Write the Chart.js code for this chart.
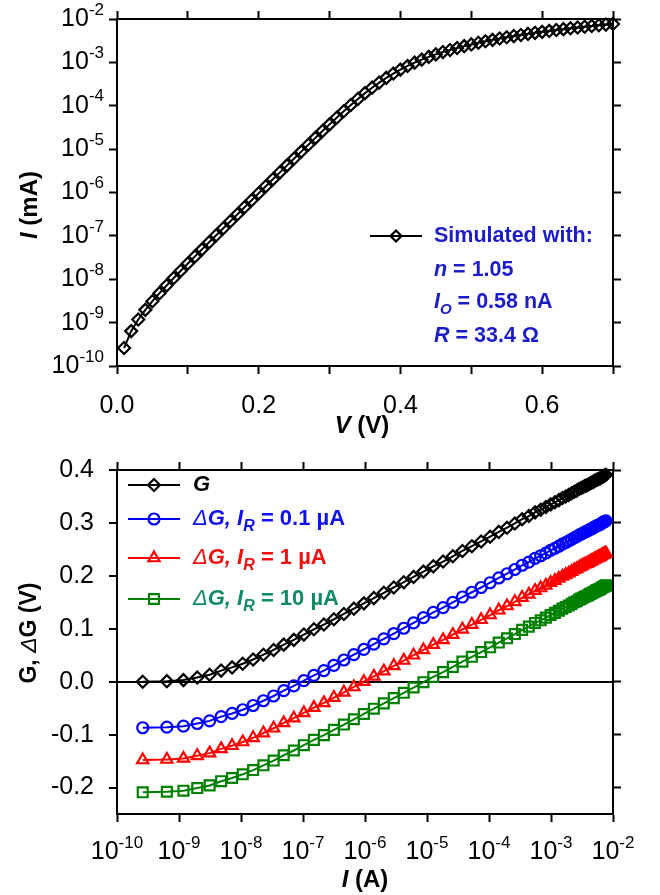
<!DOCTYPE html>
<html>
<head>
<meta charset="utf-8">
<script src="https://cdn.jsdelivr.net/npm/chart.js@4.4.1/dist/chart.umd.min.js"></script>
<style>
  html, body { margin: 0; padding: 0; background: #fff; }
  #wrap { position: relative; width: 660px; height: 895px; }
  canvas { position: absolute; left: 0; }
  #ivChart { top: 0; }
  #gChart { top: 440px; }
</style>
</head>
<body>
<div id="wrap">
  <canvas id="ivChart" width="660" height="440"></canvas>
  <canvas id="gChart" width="660" height="455"></canvas>
</div>
<script>
// Voltage points (V) of the simulated I-V curve
const vVals = [
  0.01, 0.02, 0.03, 0.04, 0.05, 0.06, 0.07, 0.08, 0.09, 0.10,
  0.11, 0.12, 0.13, 0.14, 0.15, 0.16, 0.17, 0.18, 0.19, 0.20,
  0.21, 0.22, 0.23, 0.24, 0.25, 0.26, 0.27, 0.28, 0.29, 0.30,
  0.31, 0.32, 0.33, 0.34, 0.35, 0.36, 0.37, 0.38, 0.39, 0.40,
  0.41, 0.42, 0.43, 0.44, 0.45, 0.46, 0.47, 0.48, 0.49, 0.50,
  0.51, 0.52, 0.53, 0.54, 0.55, 0.56, 0.57, 0.58, 0.59, 0.60,
  0.61, 0.62, 0.63, 0.64, 0.65, 0.66, 0.67, 0.68, 0.69, 0.70
];
// Current at each voltage (also the x values of the lower plot)
const iVals = [
  2.60e-10, 6.37e-10, 1.18e-9, 1.97e-9, 3.12e-9, 4.78e-9, 7.18e-9, 1.066e-8, 1.57e-8, 2.30e-8,
  3.36e-8, 4.89e-8, 7.11e-8, 1.032e-7, 1.498e-7, 2.173e-7, 3.150e-7, 4.565e-7, 6.616e-7, 9.585e-7,
  1.389e-6, 2.012e-6, 2.915e-6, 4.22e-6, 6.07e-6, 8.76e-6, 1.263e-5, 1.817e-5, 2.608e-5, 3.725e-5,
  5.29e-5, 7.47e-5, 1.042e-4, 1.438e-4, 1.954e-4, 2.61e-4, 3.42e-4, 4.39e-4, 5.53e-4, 6.82e-4,
  8.27e-4, 9.85e-4, 1.155e-3, 1.337e-3, 1.528e-3, 1.728e-3, 1.935e-3, 2.150e-3, 2.370e-3, 2.596e-3,
  2.827e-3, 3.062e-3, 3.301e-3, 3.543e-3, 3.788e-3, 4.036e-3, 4.287e-3, 4.540e-3, 4.795e-3, 5.052e-3,
  5.311e-3, 5.572e-3, 5.834e-3, 6.098e-3, 6.363e-3, 6.630e-3, 6.897e-3, 7.166e-3, 7.435e-3, 7.706e-3
];
// G and delta-G (V) at each current
const gVals = [
  0.000, 0.001, 0.003, 0.008, 0.013, 0.021, 0.027, 0.034, 0.042, 0.051,
  0.060, 0.070, 0.079, 0.089, 0.099, 0.108, 0.118, 0.128, 0.138, 0.148,
  0.158, 0.168, 0.178, 0.188, 0.198, 0.208, 0.218, 0.227, 0.237, 0.247,
  0.256, 0.265, 0.274, 0.283, 0.291, 0.299, 0.307, 0.313, 0.320, 0.325,
  0.330, 0.335, 0.339, 0.343, 0.347, 0.350, 0.353, 0.356, 0.359, 0.361,
  0.364, 0.366, 0.368, 0.370, 0.371, 0.373, 0.375, 0.376, 0.378, 0.379,
  0.381, 0.382, 0.383, 0.384, 0.385, 0.387, 0.388, 0.389, 0.390, 0.391
];
const dG01 = [
  -0.087, -0.086, -0.084, -0.079, -0.074, -0.066, -0.060, -0.053, -0.045, -0.036,
  -0.027, -0.017, -0.008, 0.002, 0.012, 0.021, 0.031, 0.041, 0.051, 0.061,
  0.071, 0.081, 0.091, 0.101, 0.111, 0.121, 0.131, 0.140, 0.150, 0.160,
  0.169, 0.178, 0.187, 0.196, 0.204, 0.212, 0.220, 0.226, 0.233, 0.238,
  0.243, 0.248, 0.252, 0.256, 0.260, 0.263, 0.266, 0.269, 0.272, 0.274,
  0.277, 0.279, 0.281, 0.283, 0.284, 0.286, 0.288, 0.289, 0.291, 0.292,
  0.294, 0.295, 0.296, 0.297, 0.298, 0.300, 0.301, 0.302, 0.303, 0.304
];
const dG1 = [
  -0.148, -0.147, -0.145, -0.140, -0.135, -0.127, -0.121, -0.114, -0.106, -0.097,
  -0.088, -0.078, -0.069, -0.059, -0.049, -0.040, -0.030, -0.020, -0.010, 0.000,
  0.010, 0.020, 0.030, 0.040, 0.050, 0.060, 0.070, 0.079, 0.089, 0.099,
  0.108, 0.117, 0.126, 0.135, 0.143, 0.151, 0.159, 0.165, 0.172, 0.177,
  0.182, 0.187, 0.191, 0.195, 0.199, 0.202, 0.205, 0.208, 0.211, 0.213,
  0.216, 0.218, 0.220, 0.222, 0.223, 0.225, 0.227, 0.228, 0.230, 0.231,
  0.233, 0.234, 0.235, 0.236, 0.237, 0.239, 0.240, 0.241, 0.242, 0.243
];
const dG10 = [
  -0.209, -0.208, -0.206, -0.201, -0.196, -0.188, -0.182, -0.175, -0.167, -0.158,
  -0.149, -0.139, -0.130, -0.120, -0.110, -0.101, -0.091, -0.081, -0.071, -0.061,
  -0.051, -0.041, -0.031, -0.021, -0.011, -0.001, 0.009, 0.018, 0.028, 0.038,
  0.047, 0.056, 0.065, 0.074, 0.082, 0.090, 0.098, 0.104, 0.111, 0.116,
  0.121, 0.126, 0.130, 0.134, 0.138, 0.141, 0.144, 0.147, 0.150, 0.152,
  0.155, 0.157, 0.159, 0.161, 0.162, 0.164, 0.166, 0.167, 0.169, 0.170,
  0.172, 0.173, 0.174, 0.175, 0.176, 0.178, 0.179, 0.180, 0.181, 0.182
];

// Axis ticks
const vTicks = [0, 0.1, 0.2, 0.3, 0.4, 0.5, 0.6, 0.7];
const vTickLabels = ['0.0', '', '0.2', '', '0.4', '', '0.6', ''];
const decadeTicks = [1e-10, 1e-9, 1e-8, 1e-7, 1e-6, 1e-5, 1e-4, 1e-3, 1e-2];
const gTicks = [-0.2, -0.1, 0, 0.1, 0.2, 0.3, 0.4];

const FAMILY = 'Arial, "Liberation Sans", sans-serif';
const BLUE_TXT = '#1c1cc8';

// draw a row of text pieces with their own style (italic, bold, sub/superscript)
function fontOf(r) {
    return (r.i ? 'italic ' : '') + (r.b === false ? '' : 'bold ') + r.s + 'px ' + FAMILY;
}
function drawRuns(ctx, runs, x, y, color, align) {
    let total = 0;
    runs.forEach(r => {
        ctx.font = fontOf(r);
        r.w = ctx.measureText(r.t).width;
        total += r.w;
    });
    let cx = x;
    if (align === 'right') cx = x - total;
    if (align === 'center') cx = x - total / 2;
    ctx.save();
    ctx.textAlign = 'left';
    ctx.textBaseline = 'middle';
    runs.forEach(r => {
        ctx.font = fontOf(r);
        ctx.fillStyle = r.c || color;
        ctx.fillText(r.t, cx, y + (r.dy || 0));
        cx += r.w;
    });
    ctx.restore();
}
function drawSample(ctx, x0, x1, y, color, style, radius) {
    ctx.save();
    ctx.strokeStyle = color;
    ctx.lineWidth = 2;
    ctx.beginPath();
    ctx.moveTo(x0, y);
    ctx.lineTo(x1, y);
    ctx.stroke();
    ctx.fillStyle = 'rgba(0,0,0,0)';
    ctx.lineWidth = 2.2;
    Chart.helpers.drawPoint(ctx, { pointStyle: style, radius: radius, rotation: 0, borderWidth: 2.2 }, (x0 + x1) / 2, y);
    ctx.restore();
}
function decadeLabels(ctx, scale, pos) {
    decadeTicks.forEach(v => {
        const e = Math.round(Math.log10(v));
        const runs = [
            { t: '10', s: 25, b: false },
            { t: String(e), s: 17, b: false, dy: -9 }
        ];
        if (scale.isHorizontal()) {
            drawRuns(ctx, runs, scale.getPixelForValue(v), pos, '#000', 'center');
        } else {
            drawRuns(ctx, runs, pos, scale.getPixelForValue(v), '#000', 'right');
        }
    });
}

function axisCommon(position, extra) {
    return Object.assign({
        position: position,
        grid: { drawOnChartArea: false, tickLength: 8, tickWidth: 2, tickColor: '#000' },
        border: { color: '#000', width: 2 },
        ticks: { display: false }
    }, extra);
}

// Top chart: I-V on a log scale
const topDecor = {
    id: 'topDecor',
    afterDraw(chart) {
        const ctx = chart.ctx;
        decadeLabels(ctx, chart.scales.y, 104);
        // axis titles
        drawRuns(ctx, [{ t: 'V', s: 24, i: true }, { t: ' (V)', s: 24 }], 362, 426, '#000', 'center');
        ctx.save();
        ctx.translate(30, 205);
        ctx.rotate(-Math.PI / 2);
        drawRuns(ctx, [{ t: 'I', s: 24, i: true }, { t: ' (mA)', s: 24 }], 0, 0, '#000', 'center');
        ctx.restore();
        // legend
        drawSample(ctx, 370, 422, 236, '#000', 'rectRot', 5.5);
        drawRuns(ctx, [{ t: 'Simulated with:', s: 21.5 }], 434, 236, BLUE_TXT);
        drawRuns(ctx, [{ t: 'n', s: 21.5, i: true }, { t: ' = 1.05', s: 21.5 }], 434, 270, BLUE_TXT);
        drawRuns(ctx, [{ t: 'I', s: 21.5, i: true }, { t: 'O', s: 15, i: true, dy: 8 }, { t: ' = 0.58 nA', s: 21.5 }], 434, 302, BLUE_TXT);
        drawRuns(ctx, [{ t: 'R', s: 21.5, i: true }, { t: ' = 33.4 Ω', s: 21.5 }], 434, 336, BLUE_TXT);
    }
};

new Chart(document.getElementById('ivChart'), {
    type: 'line',
    data: {
        datasets: [{
            data: vVals.map((v, i) => ({ x: v, y: iVals[i] })),
            borderColor: '#000',
            borderWidth: 2,
            pointStyle: 'rectRot',
            pointRadius: 6,
            pointBorderWidth: 2.2,
            pointBorderColor: '#000',
            pointBackgroundColor: 'rgba(0,0,0,0)',
            tension: 0,
            clip: false
        }]
    },
    options: {
        responsive: false,
        animation: false,
        events: [],
        layout: { padding: 0 },
        plugins: { legend: { display: false }, tooltip: { enabled: false } },
        scales: {
            x: axisCommon('bottom', {
                type: 'linear', min: 0, max: 0.7,
                afterBuildTicks: s => { s.ticks = vTicks.map(v => ({ value: v })); },
                ticks: {
                    display: true, color: '#000', padding: 17,
                    font: { family: FAMILY, size: 25 },
                    maxRotation: 0, autoSkip: false,
                    callback: (v, i) => vTickLabels[i]
                },
                afterFit: s => { s.height = 74; }
            }),
            xTop: axisCommon('top', {
                type: 'linear', min: 0, max: 0.7,
                afterBuildTicks: s => { s.ticks = vTicks.map(v => ({ value: v })); },
                afterFit: s => { s.height = 19; }
            }),
            y: axisCommon('left', {
                type: 'logarithmic', min: 1e-10, max: 1e-2,
                afterBuildTicks: s => { s.ticks = decadeTicks.map(v => ({ value: v })); },
                afterFit: s => { s.width = 117; }
            }),
            yRight: axisCommon('right', {
                type: 'logarithmic', min: 1e-10, max: 1e-2,
                afterBuildTicks: s => { s.ticks = decadeTicks.map(v => ({ value: v })); },
                afterFit: s => { s.width = 47; }
            })
        }
    },
    plugins: [topDecor]
});

// Bottom chart: G and delta-G versus current
const legendRows = [
    { y: 45, color: '#000', style: 'rectRot', r: 6 },
    { y: 79, color: '#0000ff', style: 'circle', r: 5.5 },
    { y: 118, color: '#ff0000', style: 'triangle', r: 6.5 },
    { y: 159, color: '#008000', style: 'rect', r: 7 }
];
const bottomDecor = {
    id: 'bottomDecor',
    afterDraw(chart) {
        const ctx = chart.ctx;
        decadeLabels(ctx, chart.scales.x, 412);
        drawRuns(ctx, [{ t: 'I', s: 24, i: true }, { t: ' (A)', s: 24 }], 365, 440, '#000', 'center');
        ctx.save();
        ctx.translate(30, 193);
        ctx.rotate(-Math.PI / 2);
        drawRuns(ctx, [{ t: 'G, ', s: 23 }, { t: 'Δ', s: 23, i: true, b: false }, { t: 'G (V)', s: 23 }], 0, 0, '#000', 'center');
        ctx.restore();
        legendRows.forEach(r => drawSample(ctx, 128, 180, r.y, r.color, r.style, r.r));
        const tx = 193;
        drawRuns(ctx, [{ t: 'G', s: 22, i: true }], tx, legendRows[0].y, '#000');
        const irLabel = amount => [
            { t: 'Δ', s: 22, i: true, b: false },
            { t: 'G, ', s: 22, i: true },
            { t: 'I', s: 22, i: true },
            { t: 'R', s: 16, i: true, dy: 8 },
            { t: ' = ' + amount + ' µA', s: 22 }
        ];
        drawRuns(ctx, irLabel('0.1'), tx, legendRows[1].y, '#1010f0');
        drawRuns(ctx, irLabel('1'), tx, legendRows[2].y, '#f01010');
        drawRuns(ctx, irLabel('10'), tx, legendRows[3].y, '#108a6a');
    }
};

function gSeries(values, color, style, radius) {
    return {
        data: iVals.map((c, i) => ({ x: c, y: values[i] })),
        borderColor: color,
        borderWidth: 2,
        pointStyle: style,
        pointRadius: radius,
        pointBorderWidth: 2.2,
        pointBorderColor: color,
        pointBackgroundColor: 'rgba(0,0,0,0)',
        tension: 0,
        clip: false
    };
}

new Chart(document.getElementById('gChart'), {
    type: 'line',
    data: {
        datasets: [
            gSeries(dG10, '#008000', 'rect', 7),
            gSeries(dG1, '#ff0000', 'triangle', 6.5),
            gSeries(dG01, '#0000ff', 'circle', 5.5),
            gSeries(gVals, '#000', 'rectRot', 6)
        ]
    },
    options: {
        responsive: false,
        animation: false,
        events: [],
        layout: { padding: 0 },
        plugins: { legend: { display: false }, tooltip: { enabled: false } },
        scales: {
            x: axisCommon('bottom', {
                type: 'logarithmic', min: 1e-10, max: 1e-2,
                afterBuildTicks: s => { s.ticks = decadeTicks.map(v => ({ value: v })); },
                afterFit: s => { s.height = 81; }
            }),
            xTop: axisCommon('top', {
                type: 'logarithmic', min: 1e-10, max: 1e-2,
                afterBuildTicks: s => { s.ticks = decadeTicks.map(v => ({ value: v })); },
                afterFit: s => { s.height = 28; }
            }),
            y: axisCommon('left', {
                type: 'linear', min: -0.25, max: 0.4,
                afterBuildTicks: s => { s.ticks = gTicks.map(v => ({ value: v })); },
                grid: {
                    drawOnChartArea: true, tickLength: 8, tickWidth: 2, tickColor: '#000',
                    lineWidth: 2,
                    color: c => (c.tick && c.tick.value === 0 ? '#000' : 'rgba(0,0,0,0)')
                },
                ticks: {
                    display: true, color: '#000', padding: 15,
                    font: { family: FAMILY, size: 25 },
                    callback: v => v.toFixed(1)
                },
                afterFit: s => { s.width = 117; }
            }),
            yRight: axisCommon('right', {
                type: 'linear', min: -0.25, max: 0.4,
                afterBuildTicks: s => { s.ticks = gTicks.map(v => ({ value: v })); },
                afterFit: s => { s.width = 47; }
            })
        }
    },
    plugins: [bottomDecor]
});
</script>
</body>
</html>
